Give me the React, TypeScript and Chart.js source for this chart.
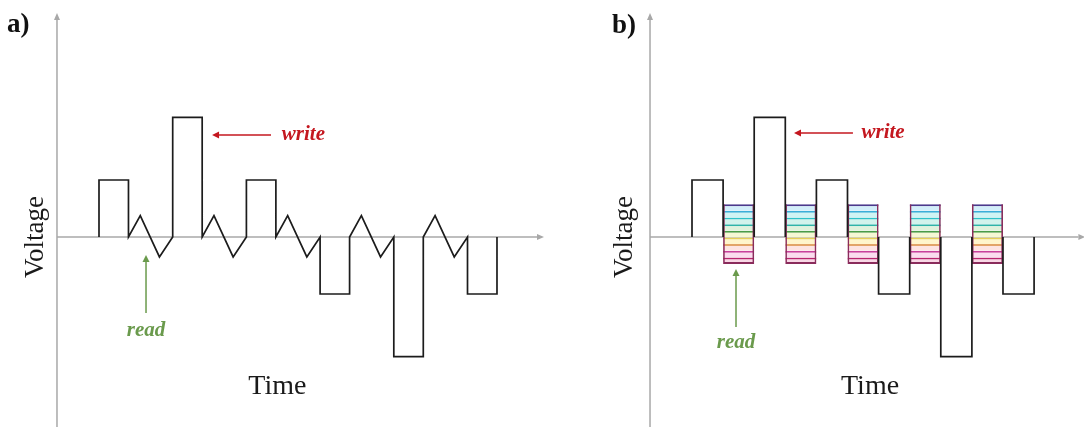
import { useEffect, useRef } from "react";
import { Chart, registerables } from "chart.js";

Chart.register(...registerables);

// Write pulse amplitudes (V), in order of occurrence
const WRITE_PULSES_A = [2, 4.2, 2, -2, -4.2, -2];
const WRITE_PULSES_B = [2, 4.2, 2, -2, -4.2, -2];
const WRITE_WIDTH = 2; // time units per write pulse

// Sawtooth read pulse of panel (a): time offsets and voltages
const READ_T = [0, 0.8, 2.1, 3];
const READ_V = [0, 0.75, -0.7, 0];

// Multilevel read window of panel (b): level voltages, top to bottom
const READ_LEVELS = [1.15, 0.92, 0.68, 0.45, 0.22, -0.02, -0.25, -0.48, -0.72, -0.95];
const READ_WIDTH_B = 2;

const LEVEL_LINE_COLORS = [
  "#4b3a8c", "#3aaed8", "#2fc2c8", "#2fb4a8", "#4a9c48",
  "#e4cf5a", "#e2a468", "#c8409c", "#b8246e", "#c02a4a",
];
const LEVEL_FILL_COLORS = [
  "#d2eefa", "#cff4f4", "#d2f3ec", "#e0f2dc", "#f5f8d4",
  "#fff5cc", "#fde4e2", "#fbdcee", "#f9d8e6",
];

const WAVE_COLOR = "#1c1c1c";
const AXIS_COLOR = "#a8a8a8";
const WRITE_COLOR = "#c4171f";
const READ_COLOR = "#6a9a4c";
const SERIF = '"Liberation Serif", "Times New Roman", serif';

const Y_MIN = -6.667;
const Y_MAX = 8.316;
const H = 427;

type Pt = { x: number; y: number | null };

function pushPt(pts: Pt[], x: number, y: number) {
  const last = pts[pts.length - 1];
  if (last && last.x === x && last.y === y) return;
  pts.push({ x, y });
}

// Write pulses joined by sawtooth read pulses
function waveformA(): Pt[] {
  const pts: Pt[] = [];
  let t = 0;
  WRITE_PULSES_A.forEach((h, i) => {
    pushPt(pts, t, 0);
    pushPt(pts, t, h);
    pushPt(pts, t + WRITE_WIDTH, h);
    pushPt(pts, t + WRITE_WIDTH, 0);
    t += WRITE_WIDTH;
    if (i < WRITE_PULSES_A.length - 1) {
      for (let k = 0; k < READ_T.length; k++) pushPt(pts, t + READ_T[k], READ_V[k]);
      t += READ_T[READ_T.length - 1];
    }
  });
  return pts;
}

// Write pulses separated by read windows (gaps in the line)
function waveformB(): { pts: Pt[]; centers: number[] } {
  const pts: Pt[] = [];
  const centers: number[] = [];
  let t = 0;
  WRITE_PULSES_B.forEach((h, i) => {
    pts.push({ x: t, y: 0 }, { x: t, y: h }, { x: t + WRITE_WIDTH, y: h }, { x: t + WRITE_WIDTH, y: 0 });
    t += WRITE_WIDTH;
    if (i < WRITE_PULSES_B.length - 1) {
      pts.push({ x: t + READ_WIDTH_B / 2, y: null });
      centers.push(t + READ_WIDTH_B / 2);
      t += READ_WIDTH_B;
    }
  });
  return { pts, centers };
}

function arrow(
  ctx: CanvasRenderingContext2D,
  x1: number, y1: number, x2: number, y2: number,
  color: string, width: number, headLen: number, headHalf: number
) {
  const ang = Math.atan2(y2 - y1, x2 - x1);
  const bx = x2 - headLen * Math.cos(ang);
  const by = y2 - headLen * Math.sin(ang);
  ctx.strokeStyle = color;
  ctx.fillStyle = color;
  ctx.lineWidth = width;
  ctx.beginPath();
  ctx.moveTo(x1, y1);
  ctx.lineTo(bx, by);
  ctx.stroke();
  ctx.beginPath();
  ctx.moveTo(x2, y2);
  ctx.lineTo(bx + headHalf * Math.sin(ang), by - headHalf * Math.cos(ang));
  ctx.lineTo(bx - headHalf * Math.sin(ang), by + headHalf * Math.cos(ang));
  ctx.closePath();
  ctx.fill();
}

// Axes with arrowheads, labels and annotation arrows
const decorPlugin = {
  id: "decor",
  beforeDatasetsDraw(chart: any, _args: any, o: any) {
    const { ctx } = chart;
    const xs = chart.scales.x;
    const ys = chart.scales.y;
    const ax = xs.getPixelForValue(o.yAxisT);
    const base = ys.getPixelForValue(0);
    ctx.save();
    arrow(ctx, ax, chart.height + 2, ax, ys.getPixelForValue(o.axisTopV), AXIS_COLOR, 1.5, 7, 3);
    arrow(ctx, ax, base, xs.getPixelForValue(o.xAxisEndT), base, AXIS_COLOR, 1.5, 7, 3);
    ctx.restore();
  },
  afterDatasetsDraw(chart: any, _args: any, o: any) {
    const { ctx } = chart;
    const px = (t: number) => chart.scales.x.getPixelForValue(t);
    const py = (v: number) => chart.scales.y.getPixelForValue(v);
    ctx.save();

    // panel letter
    ctx.fillStyle = "#111";
    ctx.font = `bold 27px ${SERIF}`;
    ctx.textAlign = "left";
    ctx.textBaseline = "middle";
    ctx.fillText(o.panel, px(o.panelPos[0]), py(o.panelPos[1]));

    // axis titles
    ctx.fillStyle = "#1a1a1a";
    ctx.font = `28px ${SERIF}`;
    ctx.textAlign = "center";
    ctx.fillText("Time", px(o.timePos[0]), py(o.timePos[1]));
    ctx.font = `27px ${SERIF}`;
    ctx.save();
    ctx.translate(px(o.voltagePos[0]), py(o.voltagePos[1]));
    ctx.rotate(-Math.PI / 2);
    ctx.fillText("Voltage", 0, 0);
    ctx.restore();

    // write annotation
    const w = o.write;
    arrow(ctx, px(w.fromT), py(w.v), px(w.toT), py(w.v), WRITE_COLOR, 1.5, 7, 3.5);
    ctx.fillStyle = WRITE_COLOR;
    ctx.font = `italic bold 21px ${SERIF}`;
    ctx.textAlign = "left";
    ctx.fillText("write", px(w.textT), py(w.v));

    // read annotation
    const r = o.read;
    arrow(ctx, px(r.t), py(r.fromV), px(r.t), py(r.toV), READ_COLOR, 1.5, 7, 3.5);
    ctx.fillStyle = READ_COLOR;
    ctx.textAlign = "center";
    ctx.fillText("read", px(r.t), py(r.textV));

    ctx.restore();
  },
};

function baseOptions(xMin: number, xMax: number, decor: any) {
  return {
    animation: false as const,
    responsive: false,
    events: [],
    layout: { padding: 0 },
    scales: {
      x: { type: "linear" as const, min: xMin, max: xMax, display: false, offset: false, ticks: { stepSize: 100 } },
      y: { type: "linear" as const, min: Y_MIN, max: Y_MAX, display: false },
    },
    plugins: {
      legend: { display: false },
      tooltip: { enabled: false },
      decor,
    },
  };
}

function configA(): any {
  return {
    type: "line",
    data: {
      datasets: [
        {
          data: waveformA(),
          borderColor: WAVE_COLOR,
          borderWidth: 1.7,
          borderJoinStyle: "miter",
          pointRadius: 0,
          tension: 0,
          fill: false,
        },
      ],
    },
    options: baseOptions(-6.716, 33.31, {
      yAxisT: -2.85,
      axisTopV: 7.86,
      xAxisEndT: 30.19,
      panel: "a)",
      panelPos: [-6.24, 7.45],
      voltagePos: [-4.27, 0],
      timePos: [12.1, -5.26],
      write: { fromT: 11.67, toT: 7.67, v: 3.58, textT: 12.4 },
      read: { t: 3.19, fromV: -2.67, toV: -0.63, textV: -3.3 },
    }),
    plugins: [decorPlugin],
  };
}

function configB(): any {
  const { pts, centers } = waveformB();
  const bands = LEVEL_FILL_COLORS.map((fill, j) => ({
    type: "bar",
    data: centers.map((c) => ({ x: c, y: [READ_LEVELS[j + 1], READ_LEVELS[j]] })),
    backgroundColor: fill,
    borderColor: LEVEL_LINE_COLORS[j],
    borderWidth: { top: 2, bottom: 0, left: 0, right: 0 },
    borderSkipped: false,
    grouped: false,
    categoryPercentage: 0.5,
    barPercentage: 1,
    order: 2,
  }));
  const frame = {
    type: "bar",
    data: centers.map((c) => ({ x: c, y: [READ_LEVELS[READ_LEVELS.length - 1], READ_LEVELS[0]] })),
    backgroundColor: "rgba(0,0,0,0)",
    borderColor: "#8a2c5c",
    borderWidth: { top: 0, bottom: 2, left: 1.6, right: 1.6 },
    borderSkipped: false,
    grouped: false,
    categoryPercentage: 0.5,
    barPercentage: 1,
    order: 1,
  };
  return {
    type: "line",
    data: {
      datasets: [
        {
          type: "line",
          data: pts,
          borderColor: WAVE_COLOR,
          borderWidth: 1.7,
          borderJoinStyle: "miter",
          pointRadius: 0,
          tension: 0,
          fill: false,
          spanGaps: false,
          order: 0,
        },
        frame,
        ...bands,
      ],
    },
    options: baseOptions(-6.56, 25.21, {
      yAxisT: -2.7,
      axisTopV: 7.86,
      xAxisEndT: 25.3,
      panel: "b)",
      panelPos: [-5.14, 7.42],
      voltagePos: [-4.31, 0],
      timePos: [11.45, -5.26],
      write: { fromT: 10.35, toT: 6.56, v: 3.65, textT: 10.9 },
      read: { t: 2.83, fromV: -3.16, toV: -1.12, textV: -3.72 },
    }),
    plugins: [decorPlugin],
  };
}

function Panel({ left, width, make }: { left: number; width: number; make: () => any }) {
  const ref = useRef<HTMLCanvasElement>(null);
  useEffect(() => {
    const chart = new Chart(ref.current as HTMLCanvasElement, make());
    return () => chart.destroy();
  }, []);
  return (
    <div style={{ position: "absolute", left, top: 0, width, height: H }}>
      <canvas ref={ref} width={width} height={H} style={{ display: "block" }} />
    </div>
  );
}

export default function App() {
  return (
    <div
      style={{
        position: "fixed",
        left: 0,
        top: 0,
        width: 1084,
        height: H,
        background: "#ffffff",
        overflow: "hidden",
      }}
    >
      <Panel left={0} width={590} make={configA} />
      <Panel left={590} width={494} make={configB} />
    </div>
  );
}
